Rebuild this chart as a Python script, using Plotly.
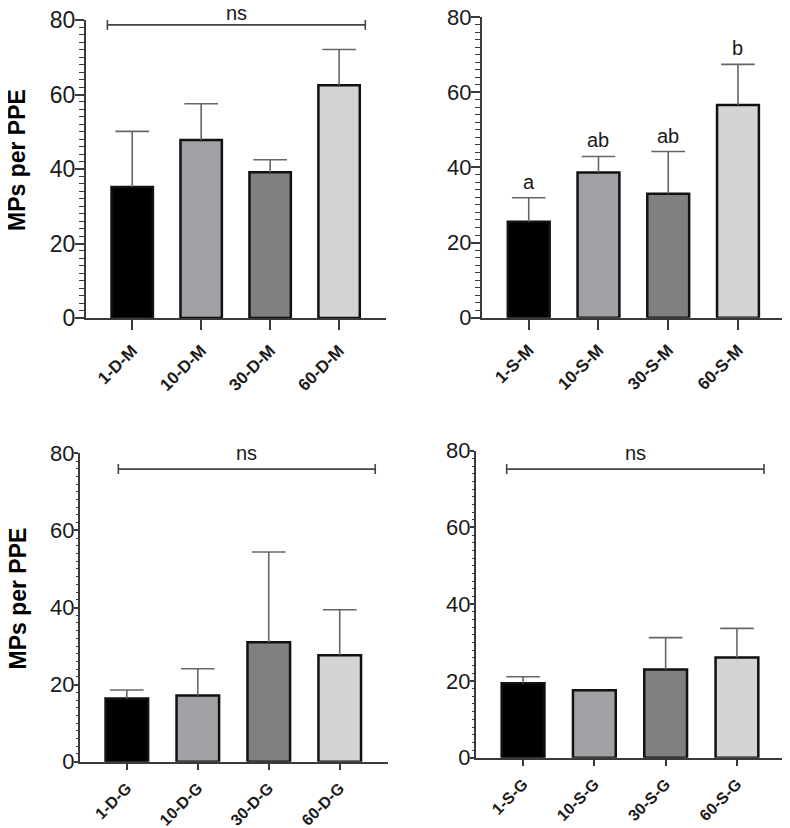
import plotly.graph_objects as go

# ---------------- data ----------------
dm_cats = ["1-D-M", "10-D-M", "30-D-M", "60-D-M"]
dm_mean = [35.2, 47.8, 39.1, 62.5]
dm_upper = [50.1, 57.5, 42.5, 72.1]

sm_cats = ["1-S-M", "10-S-M", "30-S-M", "60-S-M"]
sm_mean = [25.5, 38.6, 33.0, 56.6]
sm_upper = [31.9, 42.9, 44.2, 67.4]
sm_letters = ["a", "ab", "ab", "b"]

dg_cats = ["1-D-G", "10-D-G", "30-D-G", "60-D-G"]
dg_mean = [16.4, 17.2, 31.0, 27.6]
dg_upper = [18.6, 24.1, 54.4, 39.4]

sg_cats = ["1-S-G", "10-S-G", "30-S-G", "60-S-G"]
sg_mean = [19.4, 17.6, 23.0, 26.1]
sg_upper = [21.1, None, 31.3, 33.7]

y_tick_vals = [0, 20, 40, 60, 80]
y_title = "MPs per PPE"
ns_label = "ns"
bar_colors = ["#000000", "#a1a0a4", "#808080", "#d4d4d4"]

# ---------------- styling / layout ----------------
FONT = "Liberation Sans, Arial, sans-serif"
AX_COLOR = "#3a3a3a"
ERR_COLOR = "#666666"
OFF = 8                      # default page body margin
W, H = 790 - OFF, 828 - OFF  # figure size


def px_x(v):
    return (v - OFF) / W


def px_y(v):
    return 1 - (v - OFF) / H


panels = [
    dict(cats=dm_cats, mean=dm_mean, upper=dm_upper, xd=(86, 386), yd=(20, 318),
         xr=(-0.67, 3.68), tl=9, mtl=5, xtl=10, xso=4, xfs=17,
         bracket=(-0.36, 3.38, 78.7), nsshift=-1, title=True, yfs=23),
    dict(cats=sm_cats, mean=sm_mean, upper=sm_upper, xd=(482, 784), yd=(17, 317.7),
         xr=(-0.67, 3.66), tl=9, mtl=5, xtl=10, xso=4, xfs=17,
         bracket=None, title=False, yfs=22),
    dict(cats=dg_cats, mean=dg_mean, upper=dg_upper, xd=(80, 388), yd=(453.3, 761.7),
         xr=(-0.66, 3.68), tl=4, mtl=2, xtl=6, xso=3, xfs=16,
         bracket=(-0.12, 3.5, 75.9), nsshift=3, title=True, yfs=22),
    dict(cats=sg_cats, mean=sg_mean, upper=sg_upper, xd=(476, 784), yd=(450.7, 757.7),
         xr=(-0.66, 3.66), tl=4, mtl=2, xtl=6, xso=3, xfs=16,
         bracket=(-0.23, 3.38, 75.2), nsshift=3, title=False, yfs=22),
]

fig = go.Figure()
annotations = []
shapes = []

for i, p in enumerate(panels):
    n = "" if i == 0 else str(i + 1)
    xa, ya = "x" + n, "y" + n
    xkey, ykey = "xaxis" + n, "yaxis" + n

    fig.add_trace(go.Bar(
        x=p["cats"], y=p["mean"], xaxis=xa, yaxis=ya, width=0.6,
        marker=dict(color=bar_colors, line=dict(color="#111111", width=2.5)),
        showlegend=False, hoverinfo="x+y",
    ))
    minus = [None if u is None else u - m for u, m in zip(p["upper"], p["mean"])]
    fig.add_trace(go.Scatter(
        x=p["cats"], y=p["upper"], xaxis=xa, yaxis=ya, mode="markers",
        marker=dict(symbol="line-ew", size=24, line=dict(color=ERR_COLOR, width=1.6),
                    color=ERR_COLOR),
        error_y=dict(type="data", symmetric=False, array=[0] * 4, arrayminus=minus,
                     width=0, thickness=1.6, color=ERR_COLOR),
        showlegend=False, hoverinfo="skip", cliponaxis=False,
    ))

    x0, x1 = p["xd"]
    ytop, ybot = p["yd"]
    fig.layout[xkey] = dict(
        domain=[px_x(x0), px_x(x1)], anchor=ya, type="category", range=list(p["xr"]),
        automargin=False, ticklabeloverflow="allow",
        showline=True, linecolor=AX_COLOR, linewidth=2, ticks="outside",
        ticklen=p["xtl"], tickwidth=2, tickcolor=AX_COLOR, showgrid=False,
        zeroline=False, tickangle=-45, ticklabelstandoff=p["xso"],
        tickfont=dict(family=FONT, size=p["xfs"], color="#1a1a1a", weight="bold"),
        fixedrange=True,
    )
    fig.layout[ykey] = dict(
        domain=[px_y(ybot), px_y(ytop)], anchor=xa, range=[0, 80],
        automargin=False, ticklabeloverflow="allow",
        tickvals=y_tick_vals, showline=True, linecolor=AX_COLOR, linewidth=2,
        ticks="outside", ticklen=p["tl"], tickwidth=2, tickcolor=AX_COLOR,
        showgrid=False, zeroline=False, ticklabelstandoff=-5,
        tickfont=dict(family=FONT, size=p["yfs"], color="#1a1a1a"),
        minor=dict(dtick=2, ticks="outside", ticklen=p["mtl"], tickwidth=1.3,
                   tickcolor=AX_COLOR, showgrid=False),
        fixedrange=True,
    )

    if p["bracket"] is not None:
        bx0, bx1, by = p["bracket"]
        shapes.append(dict(type="line", xref=xa, yref=ya, x0=bx0, x1=bx1, y0=by, y1=by,
                           line=dict(color="#444444", width=1.6)))
        for bx in (bx0, bx1):
            shapes.append(dict(type="line", xref=xa, yref=ya, x0=bx, x1=bx,
                               ysizemode="pixel", yanchor=by, y0=-5, y1=5,
                               line=dict(color="#444444", width=1.6)))
        annotations.append(dict(
            text=ns_label, xref=xa, yref=ya, x=(bx0 + bx1) / 2, y=by,
            yanchor="bottom", xanchor="center", yshift=p["nsshift"], showarrow=False,
            font=dict(family=FONT, size=20, color="#1a1a1a"),
        ))

    if p["title"]:
        annotations.append(dict(
            text=y_title, xref="paper", yref="paper", x=px_x(17),
            y=px_y((ytop + ybot) / 2 - 9), xanchor="center", yanchor="middle",
            textangle=-90, showarrow=False,
            font=dict(family=FONT, size=23, color="#000000", weight="bold"),
        ))

for c, u, t in zip(sm_cats, sm_upper, sm_letters):
    annotations.append(dict(
        text=t, xref="x2", yref="y2", x=c, y=u, yanchor="bottom", xanchor="center",
        yshift=3, showarrow=False, font=dict(family=FONT, size=20, color="#1a1a1a"),
    ))

fig.update_layout(
    template="none",
    width=W, height=H, margin=dict(l=0, r=0, t=0, b=0, autoexpand=False),
    paper_bgcolor="white", plot_bgcolor="white",
    annotations=annotations, shapes=shapes, showlegend=False,
)

fig.write_html("out.html")
